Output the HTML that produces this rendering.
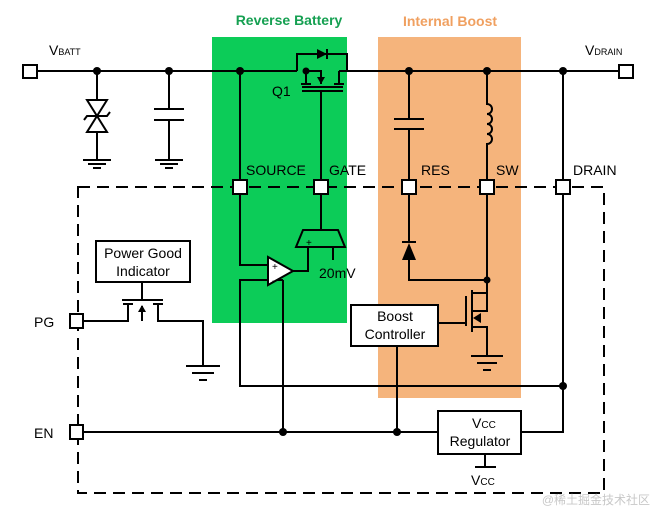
<!DOCTYPE html>
<html><head><meta charset="utf-8"><style>
html,body{margin:0;padding:0;background:#fff;}
svg{display:block;font-family:"Liberation Sans",Arial,sans-serif;}
</style></head><body>
<svg width="654" height="511" viewBox="0 0 654 511" xmlns="http://www.w3.org/2000/svg">
<rect x="212" y="37" width="135" height="286" fill="#0ccc58"/>
<rect x="378" y="37" width="143" height="361" fill="#f5b47c"/>
<text x="289" y="25" font-size="14" font-weight="bold" fill="#16a052" text-anchor="middle">Reverse Battery</text>
<text x="450" y="26" font-size="14" font-weight="bold" fill="#f0a060" text-anchor="middle">Internal Boost</text>

<g stroke="#000" stroke-width="2" fill="none">
<!-- dashed box -->
<path d="M78 187 H604 V493 H78 Z" stroke-dasharray="12,7"/>
<!-- main line -->
<line x1="37" y1="71" x2="297" y2="71"/>
<line x1="347" y1="71" x2="619" y2="71"/>
<!-- zener -->
<line x1="97" y1="71" x2="97" y2="100"/>
<path d="M87 100 H107 L97 116 Z M87 132 H107 L97 116 Z"/>
<path d="M84 120 L87 116 H107 L110 112"/>
<line x1="97" y1="132" x2="97" y2="160"/>
<line x1="83" y1="160" x2="111" y2="160"/><line x1="88" y1="164" x2="106" y2="164"/><line x1="93" y1="168" x2="101" y2="168"/>
<!-- cap -->
<line x1="169" y1="71" x2="169" y2="109"/>
<line x1="154" y1="109" x2="184" y2="109"/><line x1="154" y1="120" x2="184" y2="120"/>
<line x1="169" y1="120" x2="169" y2="160"/>
<line x1="155" y1="160" x2="183" y2="160"/><line x1="160" y1="164" x2="178" y2="164"/><line x1="165" y1="168" x2="173" y2="168"/>
<!-- Q1 -->
<path d="M297 71 V54 H347 V71"/>
<path d="M306 71 V84 M301 84 H311"/>
<path d="M339 71 H347 M339 71 V84 M334 84 H344"/>
<path d="M306 71 H321 V84"/>
<line x1="302" y1="87" x2="343" y2="87"/><line x1="302" y1="91" x2="343" y2="91"/>
<line x1="321" y1="91" x2="321" y2="230"/>
<!-- source line -->
<path d="M240 71 V265 H268"/>
<path d="M283 280 H240 V386 H563"/>
<!-- comparator -->
<path d="M268 257 V285 L293 271 Z" fill="#fff"/>
<path d="M293 271 H308 V247"/>
<line x1="283" y1="280" x2="283" y2="432"/>
<!-- 20mV trapezoid -->
<path d="M303 230 H338 L345 247 H296 Z" fill="none"/>
<line x1="333" y1="247" x2="333" y2="260"/>
<!-- boost -->
<line x1="409" y1="71" x2="409" y2="119"/>
<line x1="394" y1="119" x2="424" y2="119"/><line x1="394" y1="129" x2="424" y2="129"/>
<line x1="409" y1="129" x2="409" y2="242"/>
<line x1="402" y1="242" x2="416" y2="242"/>
<path d="M409 260 V280 H487"/>
<path d="M487 71 V104 a5 5 0 0 1 0 10 a5 5 0 0 1 0 10 a5 5 0 0 1 0 10 a5 5 0 0 1 0 10 V293 H473"/>
<line x1="472" y1="290" x2="472" y2="332"/>
<line x1="466" y1="296" x2="466" y2="326"/>
<line x1="438" y1="323" x2="466" y2="323"/>
<path d="M473 311 H487 V293 M473 327 H487 V356"/>
<line x1="471" y1="356" x2="503" y2="356"/><line x1="477" y1="363" x2="497" y2="363"/><line x1="483" y1="370" x2="491" y2="370"/>
<line x1="397" y1="346" x2="397" y2="432"/>
<!-- drain -->
<path d="M563 71 V432 H521"/>
<!-- EN -->
<line x1="83" y1="432" x2="438" y2="432"/>
<path d="M485 454 V467 M475 467 H496"/>
<!-- PG -->
<path d="M83 321 H128 V304 M123 304 H133"/>
<path d="M158 304 V321 H203 V366 M153 304 H163"/>
<path d="M142 321 V306"/>
<line x1="122" y1="300" x2="163" y2="300"/>
<line x1="142" y1="282" x2="142" y2="300"/>
<line x1="186" y1="366" x2="220" y2="366"/><line x1="192" y1="373" x2="214" y2="373"/><line x1="199" y1="380" x2="207" y2="380"/>
<!-- boxes -->
<rect x="96" y="241" width="94" height="41" fill="#fff"/>
<rect x="351" y="305" width="87" height="41" fill="#fff"/>
<rect x="438" y="411" width="83" height="43" fill="#fff"/>
<!-- terminals -->
<rect x="23" y="65" width="14" height="13" fill="#fff"/>
<rect x="619" y="65" width="14" height="13" fill="#fff"/>
<rect x="70" y="314" width="13" height="14" fill="#fff"/>
<rect x="70" y="425" width="13" height="14" fill="#fff"/>
<rect x="233" y="180" width="14" height="14" fill="#fff"/>
<rect x="314" y="180" width="14" height="14" fill="#fff"/>
<rect x="402" y="180" width="14" height="14" fill="#fff"/>
<rect x="480" y="180" width="14" height="14" fill="#fff"/>
<rect x="556" y="180" width="14" height="14" fill="#fff"/>
</g>
<g fill="#000">
<path d="M317 49 L327 54 L317 59 Z"/><line x1="327" y1="49" x2="327" y2="59" stroke="#000" stroke-width="2"/>
<path d="M317 77 L325 77 L321 84 Z"/>
<path d="M402 260 H416 L409 243 Z"/>
<path d="M473 318 L481 313 L481 323 Z"/>
<path d="M142 305 L138 312 L146 312 Z"/>
<circle cx="97" cy="71" r="4"/><circle cx="169" cy="71" r="4"/><circle cx="240" cy="71" r="4"/>
<circle cx="306" cy="71" r="3.5"/><circle cx="409" cy="71" r="4"/><circle cx="487" cy="71" r="4"/><circle cx="563" cy="71" r="4"/>
<circle cx="487" cy="280" r="3.5"/><circle cx="563" cy="386" r="4"/>
<circle cx="283" cy="432" r="4"/><circle cx="397" cy="432" r="4"/>
</g>
<g font-size="14" fill="#000">
<text x="49" y="55">V<tspan font-size="9">BATT</tspan></text>
<text x="585" y="55">V<tspan font-size="9">DRAIN</tspan></text>
<text x="272" y="96">Q1</text>
<text x="246" y="175">SOURCE</text>
<text x="329" y="175">GATE</text>
<text x="421" y="175">RES</text>
<text x="496" y="175">SW</text>
<text x="573" y="175">DRAIN</text>
<text x="319" y="278">20mV</text>
<text x="34" y="327">PG</text>
<text x="34" y="438">EN</text>
<text x="143" y="258" text-anchor="middle">Power Good</text>
<text x="143" y="276" text-anchor="middle">Indicator</text>
<text x="395" y="321" text-anchor="middle">Boost</text>
<text x="395" y="339" text-anchor="middle">Controller</text>
<text x="472" y="428">V<tspan font-size="10">CC</tspan></text>
<text x="480" y="446" text-anchor="middle">Regulator</text>
<text x="471" y="485">V<tspan font-size="10">CC</tspan></text>
<text x="272" y="270" font-size="10">+</text>
<text x="272" y="284" font-size="10">-</text>
<text x="306" y="246" font-size="10">+</text>
</g>
<text x="650" y="504" font-size="12" fill="#c8c8c8" text-anchor="end" font-family="'Liberation Sans','Noto Sans CJK SC',sans-serif">@稀土掘金技术社区</text>
</svg>
</body></html>
